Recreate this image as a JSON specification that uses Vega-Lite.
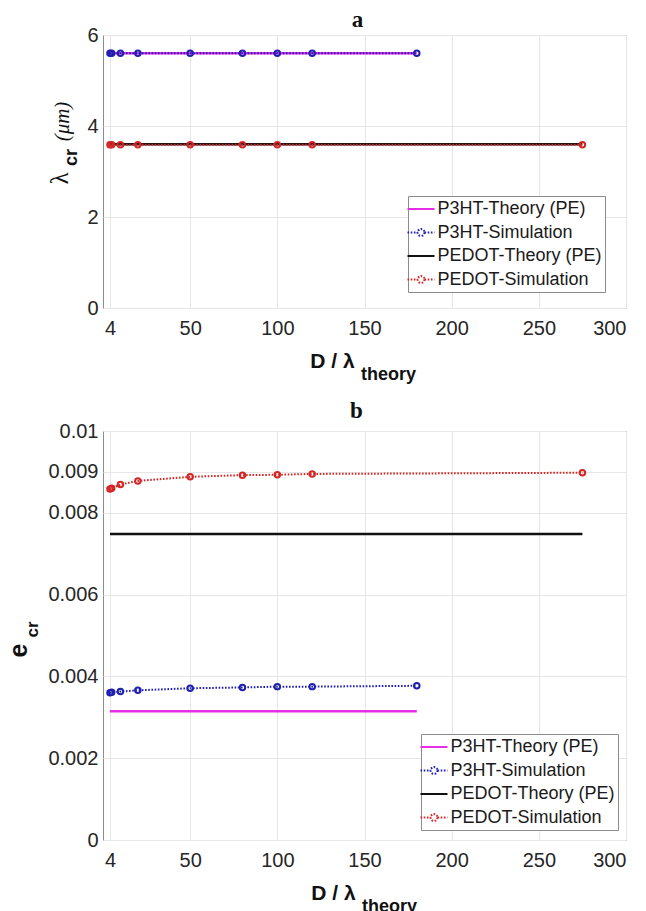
{
  "$schema": "https://vega.github.io/schema/vega-lite/v6.json",
  "background": "white",
  "padding": {"left": 5, "top": 8, "right": 5, "bottom": 5},
  "bounds": "flush",
  "spacing": 123,
  "config": {
    "view": {"stroke": "#8c8c8c", "strokeWidth": 1},
    "axis": {"labelFont": "Liberation Sans", "labelFontSize": 20, "labelColor": "#262626", "titleFont": "Liberation Sans", "titleColor": "#111111", "gridColor": "#e6e6e6", "gridWidth": 1},
    "title": {"font": "Liberation Serif", "fontSize": 23, "fontWeight": "bold", "color": "#111111"}
  },
  "resolve": {"scale": {"color": "independent"}, "legend": {"color": "independent"}},
  "datasets": {
    "a": [
      {"series": "P3HT-Theory (PE)", "x": 4, "y": 5.6},
      {"series": "P3HT-Theory (PE)", "x": 180, "y": 5.6},
      {"series": "PEDOT-Theory (PE)", "x": 4, "y": 3.6},
      {"series": "PEDOT-Theory (PE)", "x": 275, "y": 3.6},
      {"series": "P3HT-Simulation", "x": 4, "y": 5.6},
      {"series": "P3HT-Simulation", "x": 5, "y": 5.6},
      {"series": "P3HT-Simulation", "x": 10, "y": 5.6},
      {"series": "P3HT-Simulation", "x": 20, "y": 5.6},
      {"series": "P3HT-Simulation", "x": 50, "y": 5.6},
      {"series": "P3HT-Simulation", "x": 80, "y": 5.6},
      {"series": "P3HT-Simulation", "x": 100, "y": 5.6},
      {"series": "P3HT-Simulation", "x": 120, "y": 5.6},
      {"series": "P3HT-Simulation", "x": 180, "y": 5.6},
      {"series": "PEDOT-Simulation", "x": 4, "y": 3.59},
      {"series": "PEDOT-Simulation", "x": 5, "y": 3.59},
      {"series": "PEDOT-Simulation", "x": 10, "y": 3.59},
      {"series": "PEDOT-Simulation", "x": 20, "y": 3.59},
      {"series": "PEDOT-Simulation", "x": 50, "y": 3.59},
      {"series": "PEDOT-Simulation", "x": 80, "y": 3.59},
      {"series": "PEDOT-Simulation", "x": 100, "y": 3.59},
      {"series": "PEDOT-Simulation", "x": 120, "y": 3.59},
      {"series": "PEDOT-Simulation", "x": 275, "y": 3.59}
    ],
    "b": [
      {"series": "P3HT-Theory (PE)", "x": 4, "y": 0.00315},
      {"series": "P3HT-Theory (PE)", "x": 180, "y": 0.00315},
      {"series": "PEDOT-Theory (PE)", "x": 4, "y": 0.00748},
      {"series": "PEDOT-Theory (PE)", "x": 275, "y": 0.00748},
      {"series": "P3HT-Simulation", "x": 4, "y": 0.0036},
      {"series": "P3HT-Simulation", "x": 5, "y": 0.00361},
      {"series": "P3HT-Simulation", "x": 10, "y": 0.00363},
      {"series": "P3HT-Simulation", "x": 20, "y": 0.00366},
      {"series": "P3HT-Simulation", "x": 50, "y": 0.00371},
      {"series": "P3HT-Simulation", "x": 80, "y": 0.00373},
      {"series": "P3HT-Simulation", "x": 100, "y": 0.00375},
      {"series": "P3HT-Simulation", "x": 120, "y": 0.00375},
      {"series": "P3HT-Simulation", "x": 180, "y": 0.00377},
      {"series": "PEDOT-Simulation", "x": 4, "y": 0.00858},
      {"series": "PEDOT-Simulation", "x": 5, "y": 0.0086},
      {"series": "PEDOT-Simulation", "x": 10, "y": 0.00869},
      {"series": "PEDOT-Simulation", "x": 20, "y": 0.00878},
      {"series": "PEDOT-Simulation", "x": 50, "y": 0.00888},
      {"series": "PEDOT-Simulation", "x": 80, "y": 0.00892},
      {"series": "PEDOT-Simulation", "x": 100, "y": 0.00893},
      {"series": "PEDOT-Simulation", "x": 120, "y": 0.00895},
      {"series": "PEDOT-Simulation", "x": 275, "y": 0.00898}
    ]
  },
  "vconcat": [
    {
      "width": 523,
      "height": 273,
      "title": {"text": "a", "anchor": "middle", "dx": -7, "offset": -25, "baseline": "alphabetic"},
      "data": {"name": "a"},
      "resolve": {"axis": {"x": "independent", "y": "independent"}},
      "layer": [
        {
          "transform": [{"filter": "indexof(datum.series, 'Theory') >= 0"}],
          "mark": {"type": "line", "strokeWidth": 2.5},
          "encoding": {
            "x": {"field": "x", "type": "quantitative", "scale": {"domain": [0, 300], "nice": false, "zero": false},
              "axis": {"orient": "bottom", "values": [4, 50, 100, 150, 200, 250, 300], "ticks": false, "domain": false, "grid": true, "labelPadding": 10, "title": "D / λ", "titleFontSize": 21, "titleFontWeight": "bold", "titleX": 229, "titleY": 59, "titleBaseline": "alphabetic", "titleAlign": "center"}},
            "y": {"field": "y", "type": "quantitative", "scale": {"domain": [0, 6], "nice": false, "zero": false},
              "axis": {"orient": "left", "values": [0, 2, 4, 6], "ticks": false, "domain": false, "grid": true, "labelPadding": 5, "title": "λ", "titleFont": "Liberation Serif", "titleFontSize": 25, "titleFontWeight": "normal", "titleX": -36, "titleY": 143, "titleAngle": 270, "titleBaseline": "alphabetic", "titleAlign": "center"}},
            "color": {"field": "series", "type": "nominal",
              "scale": {"domain": ["P3HT-Theory (PE)", "P3HT-Simulation", "PEDOT-Theory (PE)", "PEDOT-Simulation"], "range": ["#e52ee5", "#1f1fb0", "#111111", "#d42626"]},
              "legend": {"orient": "none", "legendX": 305, "legendY": 161, "title": null, "labelFont": "Liberation Sans", "labelFontSize": 18, "labelColor": "#1a1a1a", "labelLimit": 300, "symbolSize": 324, "symbolStrokeWidth": 2, "labelOffset": 6.5, "padding": 3, "rowPadding": 4.5, "fillColor": "white", "strokeColor": "#8c8c8c",
                "encode": {"symbols": {"update": {
                  "shape": {"signal": "indexof(datum.value, 'Simulation') >= 0 ? 'M-1.5,0L-0.39,0M0.39,0L1.5,0M0.39,0L0.338,0.195L0.195,0.338L0,0.39L-0.195,0.338L-0.338,0.195L-0.39,0L-0.338,-0.195L-0.195,-0.338L0,-0.39L0.195,-0.338L0.338,-0.195Z' : 'M-1.5,0L1.5,0'"},
                  "strokeDash": {"signal": "indexof(datum.value, 'Simulation') >= 0 ? [1.6, 1.6] : [1, 0]"},
                  "fill": {"value": "transparent"}
                }}}}}
          }
        },
        {
          "transform": [{"filter": "indexof(datum.series, 'Simulation') >= 0"}],
          "mark": {"type": "line", "strokeWidth": 2, "strokeDash": [1.6, 1.6]},
          "encoding": {
            "x": {"field": "x", "type": "quantitative",
              "axis": {"orient": "bottom", "labels": false, "ticks": false, "domain": false, "grid": false, "title": "theory", "titleFontSize": 18, "titleFontWeight": "bold", "titleX": 285, "titleY": 71, "titleBaseline": "alphabetic", "titleAlign": "center"}},
            "y": {"field": "y", "type": "quantitative",
              "axis": {"orient": "left", "labels": false, "ticks": false, "domain": false, "grid": false, "title": "cr", "titleFontSize": 18, "titleFontWeight": "bold", "titleX": -27, "titleY": 122, "titleAngle": 270, "titleBaseline": "alphabetic", "titleAlign": "center"}},
            "color": {"field": "series", "type": "nominal"}
          }
        },
        {
          "transform": [{"filter": "indexof(datum.series, 'Simulation') >= 0"}],
          "mark": {"type": "point", "filled": false, "shape": "circle", "size": 30, "strokeWidth": 2, "opacity": 1},
          "encoding": {
            "x": {"field": "x", "type": "quantitative", "axis": null},
            "y": {"field": "y", "type": "quantitative",
              "axis": {"orient": "left", "labels": false, "ticks": false, "domain": false, "grid": false, "title": "(μm)", "titleFont": "Liberation Serif", "titleFontStyle": "italic", "titleFontSize": 21, "titleFontWeight": "normal", "titleX": -35, "titleY": 86, "titleAngle": 270, "titleBaseline": "alphabetic", "titleAlign": "center"}},
            "color": {"field": "series", "type": "nominal"}
          }
        }
      ]
    },
    {
      "width": 523,
      "height": 409,
      "title": {"text": "b", "anchor": "middle", "dx": -8, "offset": -20, "baseline": "alphabetic"},
      "data": {"name": "b"},
      "resolve": {"axis": {"x": "independent", "y": "independent"}},
      "layer": [
        {
          "transform": [{"filter": "indexof(datum.series, 'Theory') >= 0"}],
          "mark": {"type": "line", "strokeWidth": 2.5},
          "encoding": {
            "x": {"field": "x", "type": "quantitative", "scale": {"domain": [0, 300], "nice": false, "zero": false},
              "axis": {"orient": "bottom", "values": [4, 50, 100, 150, 200, 250, 300], "ticks": false, "domain": false, "grid": true, "labelPadding": 10, "title": "D / λ", "titleFontSize": 21, "titleFontWeight": "bold", "titleX": 230, "titleY": 59, "titleBaseline": "alphabetic", "titleAlign": "center"}},
            "y": {"field": "y", "type": "quantitative", "scale": {"domain": [0, 0.01], "nice": false, "zero": false},
              "axis": {"orient": "left", "values": [0, 0.002, 0.004, 0.006, 0.008, 0.009, 0.01], "format": "~g", "ticks": false, "domain": false, "grid": true, "labelPadding": 5, "title": "e", "titleFontSize": 25, "titleFontWeight": "bold", "titleX": -77, "titleY": 219, "titleAngle": 270, "titleBaseline": "alphabetic", "titleAlign": "center"}},
            "color": {"field": "series", "type": "nominal",
              "scale": {"domain": ["P3HT-Theory (PE)", "P3HT-Simulation", "PEDOT-Theory (PE)", "PEDOT-Simulation"], "range": ["#e52ee5", "#1f1fb0", "#111111", "#d42626"]},
              "legend": {"orient": "none", "legendX": 318, "legendY": 303, "title": null, "labelFont": "Liberation Sans", "labelFontSize": 18, "labelColor": "#1a1a1a", "labelLimit": 300, "symbolSize": 324, "symbolStrokeWidth": 2, "labelOffset": 6.5, "padding": 3, "rowPadding": 4.5, "fillColor": "white", "strokeColor": "#8c8c8c",
                "encode": {"symbols": {"update": {
                  "shape": {"signal": "indexof(datum.value, 'Simulation') >= 0 ? 'M-1.5,0L-0.39,0M0.39,0L1.5,0M0.39,0L0.338,0.195L0.195,0.338L0,0.39L-0.195,0.338L-0.338,0.195L-0.39,0L-0.338,-0.195L-0.195,-0.338L0,-0.39L0.195,-0.338L0.338,-0.195Z' : 'M-1.5,0L1.5,0'"},
                  "strokeDash": {"signal": "indexof(datum.value, 'Simulation') >= 0 ? [1.6, 1.6] : [1, 0]"},
                  "fill": {"value": "transparent"}
                }}}}}
          }
        },
        {
          "transform": [{"filter": "indexof(datum.series, 'Simulation') >= 0"}],
          "mark": {"type": "line", "strokeWidth": 2, "strokeDash": [1.6, 1.6]},
          "encoding": {
            "x": {"field": "x", "type": "quantitative",
              "axis": {"orient": "bottom", "labels": false, "ticks": false, "domain": false, "grid": false, "title": "theory", "titleFontSize": 18, "titleFontWeight": "bold", "titleX": 286, "titleY": 71, "titleBaseline": "alphabetic", "titleAlign": "center"}},
            "y": {"field": "y", "type": "quantitative",
              "axis": {"orient": "left", "labels": false, "ticks": false, "domain": false, "grid": false, "title": "cr", "titleFontSize": 17, "titleFontWeight": "bold", "titleX": -66, "titleY": 198, "titleAngle": 270, "titleBaseline": "alphabetic", "titleAlign": "center"}},
            "color": {"field": "series", "type": "nominal"}
          }
        },
        {
          "transform": [{"filter": "indexof(datum.series, 'Simulation') >= 0"}],
          "mark": {"type": "point", "filled": false, "shape": "circle", "size": 30, "strokeWidth": 2, "opacity": 1},
          "encoding": {
            "x": {"field": "x", "type": "quantitative", "axis": null},
            "y": {"field": "y", "type": "quantitative", "axis": null},
            "color": {"field": "series", "type": "nominal"}
          }
        }
      ]
    }
  ]
}
